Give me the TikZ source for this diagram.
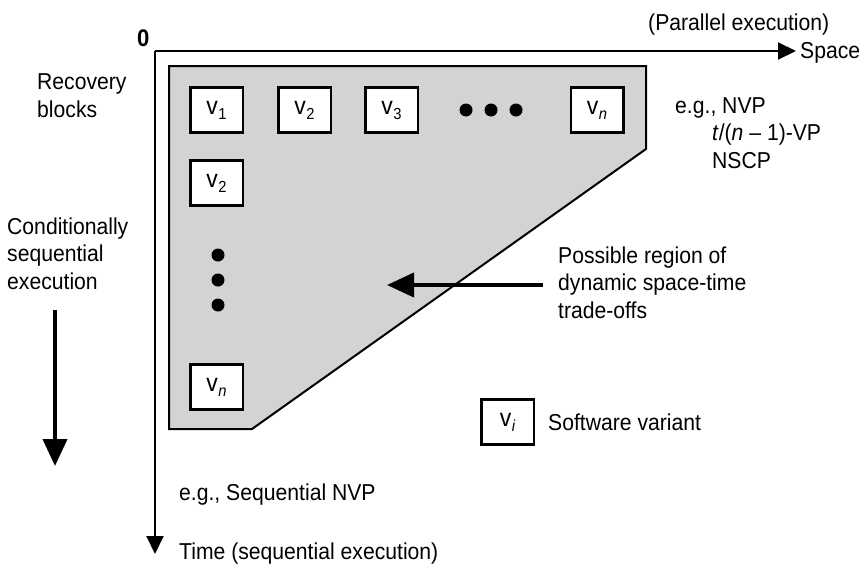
\documentclass[tikz,border=0pt]{standalone}
\usepackage{fontspec}
\setmainfont{Liberation Sans}[FakeStretch=0.92]
\usetikzlibrary{arrows.meta}
\definecolor{regiongray}{HTML}{D1D3D4}
\newcommand\varsub[1]{{\fontsize{25}{25}\selectfont v}\kern0.6pt\raisebox{-5pt}{\fontsize{16}{16}\selectfont #1}}

\begin{document}
\begin{tikzpicture}[x=1pt,y=-1pt,
  every node/.style={font=\fontsize{23}{27.5}\selectfont, inner sep=0pt},
  txt/.style={anchor=base west, align=left},
  variant/.style={draw, line width=2.5pt, fill=white, minimum width=52.5pt, minimum height=45pt},
  axis/.style={line width=2pt, -{Triangle[length=18pt,width=17pt]}},
  bigarrow/.style={line width=4pt, -{Triangle[length=27pt,width=24pt]}},
  region/.style={draw, line width=2pt, fill=regiongray}
]
\useasboundingbox (0,0) rectangle (865,565);

% space-time axes
\coordinate (O) at (155,51);
\coordinate (xend) at (796,51);
\coordinate (yend) at (155,554);
\draw[axis] (O) -- (xend);
\draw[axis] (O) -- (yend);
\node[txt, font=\fontsize{24}{27.5}\selectfont\bfseries] (zero) at (137,46) {0};
\node[txt] (par) at (648,30) {(Parallel execution)};
\node[txt] (space) at (800,58) {Space};
\node[txt] (time) at (179,559) {Time (sequential execution)};

% region of possible space-time trade-offs
\draw[region] (169,66) -- (646,66) -- (646,149) -- (252,429) -- (169,429) -- cycle;

% variants executed in parallel (top row) and in sequence (left column)
\node[variant] (r1) at (216.5,110) {\varsub{1}};
\node[variant] (r2) at (304.5,110) {\varsub{2}};
\node[variant] (r3) at (391.5,110) {\varsub{3}};
\node[variant] (rn) at (597,110) {\varsub{\itshape n}};
\node[variant] (c2) at (216.5,183) {\varsub{2}};
\node[variant] (cn) at (216.5,387) {\varsub{\itshape n}};
\foreach \x in {466,491,516} \fill (\x,110) circle (6.5);
\foreach \y in {255,280,305} \fill (218,\y) circle (6.5);

% legend
\node[variant] (vi) at (507.5,422) {\varsub{\itshape i}};
\node[txt] (legend) at (548,430) {Software variant};

% side labels (base anchor sits on the last line)
\node[txt] (rb) at (37,117) {Recovery\\blocks};
\node[txt] (cse) at (7,289) {Conditionally\\sequential\\execution};
\coordinate (ca) at (55,310);
\coordinate (cb) at (55,466);
\draw[bigarrow] (ca) -- (cb);

\node[txt] (nvp) at (675,113) {e.g., NVP};
\node[txt] (tvp) at (712,140) {\textit{t}/(\textit{n} – 1)-VP};
\node[txt] (nscp) at (712,168) {NSCP};

\node[txt] (poss) at (558,318) {Possible region of\\dynamic space-time\\trade-offs};
\coordinate (pa) at (543,285);
\coordinate (pb) at (387,285);
\draw[bigarrow] (pa) -- (pb);

\node[txt] (seq) at (179,500) {e.g., Sequential NVP};
\end{tikzpicture}
\end{document}
